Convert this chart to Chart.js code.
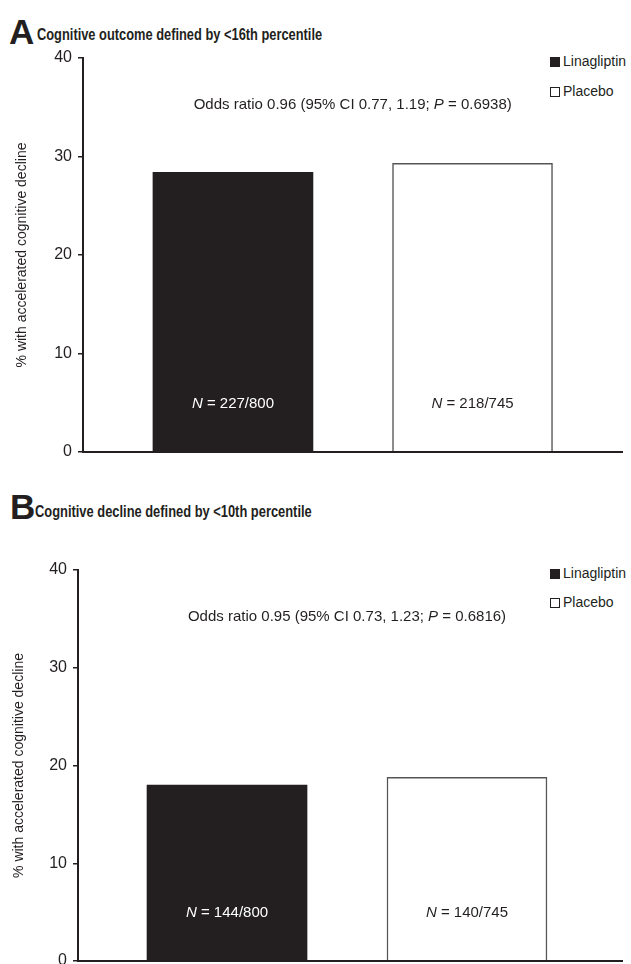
<!DOCTYPE html>
<html><head><meta charset="utf-8">
<script src="https://cdn.jsdelivr.net/npm/chart.js@4.4.1/dist/chart.umd.min.js"></script>
<style>
html,body{margin:0;padding:0;width:631px;height:964px;overflow:hidden;background:#fff;font-family:"Liberation Sans",Arial,sans-serif;color:#231f20;}
canvas{position:absolute;left:0;}
.t{position:absolute;white-space:nowrap;line-height:1;transform-origin:0 50%;}
.letter{font-weight:bold;font-size:35px;}
.ttl{font-weight:bold;font-size:16px;}
.leg{font-size:14px;}
.sq{display:inline-block;width:10px;height:10px;box-sizing:border-box;margin-right:3px;vertical-align:-1px;}
</style>
</head><body>
<div class="t letter" style="left:9px;top:14px">A</div>
<div class="t ttl" id="ttlA" style="left:37px;top:27px">Cognitive outcome defined by &lt;16th percentile</div>
<div class="t leg" style="left:550px;top:54px"><span class="sq" style="background:#231f20"></span>Linagliptin</div>
<div class="t leg" style="left:550px;top:84px"><span class="sq" style="border:1.5px solid #231f20;background:#fff"></span>Placebo</div>
<canvas id="cA" width="631" height="470" style="top:0px"></canvas>

<div class="t letter" style="left:10px;top:489px">B</div>
<div class="t ttl" id="ttlB" style="left:35px;top:504px">Cognitive decline defined by &lt;10th percentile</div>
<div class="t leg" style="left:550px;top:566px"><span class="sq" style="background:#231f20"></span>Linagliptin</div>
<div class="t leg" style="left:550px;top:595px"><span class="sq" style="border:1.5px solid #231f20;background:#fff"></span>Placebo</div>
<canvas id="cB" width="631" height="520" style="top:470px"></canvas>

<script>
const categories = ["Linagliptin", "Placebo"];
const valuesA = [28.4, 29.3];
const valuesB = [18.0, 18.8];
const nLabelsA = ["227/800", "218/745"];
const nLabelsB = ["144/800", "140/745"];
const oddsA = ["Odds ratio 0.96 (95% CI 0.77, 1.19; ", "P", " = 0.6938)"];
const oddsB = ["Odds ratio 0.95 (95% CI 0.73, 1.23; ", "P", " = 0.6816)"];
const yTicks = [0, 10, 20, 30, 40];
const yTitle = "% with accelerated cognitive decline";

const FAM = '"Liberation Sans", Arial, sans-serif';
const INK = '#231f20';

function drawParts(ctx, parts, cx, cy, color) {
  const fonts = parts.map(p => (p[1] ? 'italic ' : '') + '15px ' + FAM);
  let total = 0;
  const widths = parts.map((p, i) => { ctx.font = fonts[i]; const w = ctx.measureText(p[0]).width; total += w; return w; });
  let x = cx - total / 2;
  ctx.fillStyle = color;
  ctx.textBaseline = 'middle';
  ctx.textAlign = 'left';
  parts.forEach((p, i) => { ctx.font = fonts[i]; ctx.fillText(p[0], x, cy); x += widths[i]; });
}

const annot = {
  id: 'annot',
  afterDatasetsDraw(chart, args, opts) {
    const { ctx } = chart;
    const x = chart.scales.x, y = chart.scales.y;
    ctx.save();
    drawParts(ctx, [[opts.odds[0], false], [opts.odds[1], true], [opts.odds[2], false]],
      x.getPixelForValue(0.5), y.getPixelForValue(opts.oddsY), INK);
    opts.n.forEach((t, i) => drawParts(ctx, [['N', true], [' = ' + t, false]],
      x.getPixelForValue(i), y.getPixelForValue(opts.nY), i === 0 ? '#ffffff' : INK));
    ctx.restore();
  }
};

function makeChart(id, values, nLabels, odds, cfg) {
  return new Chart(document.getElementById(id), {
    type: 'bar',
    data: {
      datasets: categories.map((c, i) => ({
        label: c,
        data: [{ x: i, y: values[i] }],
        backgroundColor: i ? '#ffffff' : INK,
        borderColor: i ? '#555555' : INK,
        borderWidth: i ? 1.5 : 0,
        barThickness: 160,
        grouped: false
      }))
    },
    options: {
      responsive: false, animation: false, devicePixelRatio: 1,
      layout: { padding: { left: 0, top: cfg.top, right: cfg.right, bottom: cfg.bottom } },
      plugins: {
        legend: { display: false }, tooltip: { enabled: false },
        annot: { odds: odds, n: nLabels, oddsY: 35.2, nY: 4.9 }
      },
      scales: {
        x: {
          type: 'linear', min: cfg.xmin, max: cfg.xmax, offset: false,
          ticks: { display: false }, grid: { display: false, offset: false },
          border: { display: true, color: INK, width: 2, z: 1 },
          afterFit(s) { s.height = 0; }
        },
        y: {
          min: 0, max: 40,
          afterBuildTicks(s) { s.ticks = yTicks.map(v => ({ value: v })); },
          ticks: { color: INK, font: { family: FAM, size: 16 }, padding: 6 },
          grid: { display: true, drawOnChartArea: false, drawTicks: true, tickLength: 5, color: INK, lineWidth: 1.5 },
          border: { display: true, color: INK, width: 2 },
          title: { display: true, text: yTitle, color: INK, font: { family: FAM, size: 14 }, padding: { top: cfg.tpad, bottom: 0 } },
          afterFit(s) { s.width = cfg.axisX; }
        }
      }
    },
    plugins: [annot]
  });
}

function fit(id, w) {
  const el = document.getElementById(id);
  el.style.transform = 'scaleX(' + (w / el.offsetWidth) + ')';
}

function go() {
  fit('ttlA', 285);
  fit('ttlB', 277);
  makeChart('cA', valuesA, nLabelsA, oddsA, { top: 58, bottom: 18, right: 9, axisX: 83, xmin: -0.626, xmax: 1.624, tpad: 13.6 });
  makeChart('cB', valuesB, nLabelsB, oddsB, { top: 100, bottom: 29, right: 9, axisX: 78, xmin: -0.621, xmax: 1.646, tpad: 10.6 });
}
if (document.fonts && document.fonts.ready) document.fonts.ready.then(go); else go();
</script>
</body></html>
